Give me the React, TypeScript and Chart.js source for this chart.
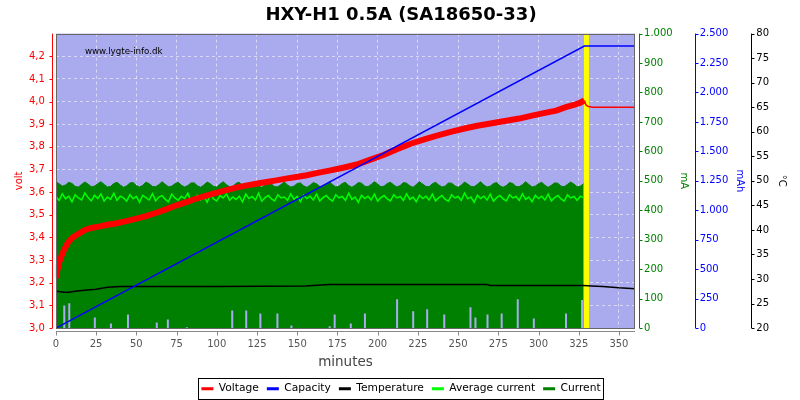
import React, { useEffect, useRef } from 'react';
import { Chart, registerables } from 'chart.js';

Chart.register(...registerables);

const TITLE = 'HXY-H1 0.5A (SA18650-33)';
const WATERMARK = 'www.lygte-info.dk';
const FONT = 'DejaVu Sans';
const SAMPLE_MINUTES = 2;

// Voltage (V) vs minutes
const voltTimes = [0, 1, 2, 3.5, 5, 7.5, 10, 12, 15, 18, 22, 26.5, 32, 37, 43, 49.5, 56, 62, 68, 74.5, 81, 87, 93, 99.5, 106, 112, 118, 124.5, 131, 137, 143, 149.5, 156, 162, 170, 178.5, 187, 196, 204, 212, 221, 230, 238, 246, 254, 262, 271, 280, 288, 296, 304, 311, 317, 322, 326, 328.5, 329.5, 331, 334, 360];
const voltValues = [3.222, 3.26, 3.29, 3.319, 3.345, 3.378, 3.398, 3.408, 3.42, 3.433, 3.442, 3.448, 3.456, 3.462, 3.471, 3.482, 3.494, 3.508, 3.523, 3.541, 3.556, 3.571, 3.584, 3.597, 3.609, 3.62, 3.629, 3.637, 3.645, 3.652, 3.66, 3.667, 3.675, 3.684, 3.695, 3.708, 3.722, 3.745, 3.765, 3.79, 3.815, 3.835, 3.852, 3.867, 3.881, 3.893, 3.904, 3.915, 3.925, 3.938, 3.95, 3.96, 3.975, 3.985, 3.995, 4.005, 3.985, 3.978, 3.975, 3.975];

// Capacity (mAh)
const capTimes = [0, 328.5, 360];
const capValues = [0, 2395, 2395];

// Temperature (°C)
const tempTimes = [0, 3, 5, 8, 12, 18, 25, 32, 40, 100, 155, 160, 170, 268, 270, 328, 333, 340, 350, 360];
const tempValues = [27.5, 27.4, 27.3, 27.3, 27.5, 27.7, 27.9, 28.3, 28.5, 28.5, 28.6, 28.7, 28.9, 28.9, 28.7, 28.7, 28.6, 28.5, 28.2, 28.0];

// Average current (mA), one value every SAMPLE_MINUTES
const avgCurrent = [
  447, 434, 456, 439, 448, 429, 453, 442, 435, 459, 443, 432, 451, 440, 455,
  431, 445, 437, 458, 434, 448, 442, 431, 453, 439, 447, 427, 451, 443, 435,
  456, 432, 445, 450, 437, 429, 455, 442, 434, 448, 440, 458, 431, 443, 451,
  435, 447, 427, 453, 439, 432, 450, 442, 456, 434, 445, 437, 448, 429, 455,
  440, 447, 435, 458, 431, 443, 450, 439, 432, 453, 442, 445, 434, 456, 437,
  447, 429, 451, 440, 448, 435, 455, 432, 443, 450, 439, 431, 453, 442, 447,
  434, 458, 437, 445, 427, 451, 440, 448, 435, 455, 431, 443, 450, 439, 432,
  453, 442, 447, 434, 456, 437, 445, 429, 451, 440, 448, 435, 455, 432, 443,
  450, 437, 431, 453, 442, 447, 434, 458, 439, 445, 427, 451, 440, 448, 435,
  455, 431, 443, 450, 439, 432, 453, 442, 447, 434, 456, 437, 445, 429, 451,
  440, 448, 435, 455, 432, 443, 450, 439, 431, 453, 442, 447, 434, 448, 443,
];

// Current (mA), one value every SAMPLE_MINUTES
const current = [
  497, 490, 482, 486, 495, 491, 481, 479, 488, 496, 489, 480, 482, 490, 497,
  488, 479, 481, 491, 495, 486, 478, 483, 493, 494, 484, 479, 485, 496, 490,
  481, 480, 487, 497, 488, 480, 482, 490, 495, 485, 479, 484, 493, 493, 483,
  478, 486, 496, 490, 481, 479, 489, 497, 487, 480, 481, 492, 495, 484, 479,
  483, 494, 492, 482, 478, 485, 497, 489, 480, 480, 488, 496, 486, 479, 482,
  491, 493, 483, 478, 485, 494, 490, 481, 480, 488, 497, 487, 479, 482, 491,
  495, 484, 478, 485, 494, 492, 482, 480, 488, 497, 489, 480, 482, 491, 495,
  486, 479, 484, 494, 492, 483, 478, 487, 497, 489, 481, 480, 490, 495, 486,
  479, 482, 493, 492, 483, 478, 485, 496, 489, 481, 480, 488, 497, 486, 479,
  482, 491, 494, 483, 478, 484, 494, 491, 481, 480, 487, 497, 488, 479, 482,
  490, 495, 485, 478, 485, 493, 492, 482, 480, 488, 496, 489, 480, 482, 490,
];

// Short current drop-outs (minute, mA reached)
const dipTimes = [5.2, 8.3, 24.2, 34.2, 44.8, 62.7, 69.6, 81.4, 109.6, 118.3, 127.1, 137.7, 146.4, 170.2, 173.3, 183.3, 192.1, 212.1, 222.1, 230.8, 241.4, 257.7, 260.8, 268.3, 277.1, 287.1, 297.1, 317.1, 327.1];
const dipHeights = [77, 84, 36, 16, 46, 19, 29, 3, 60, 60, 50, 50, 9, 6, 46, 16, 50, 98, 57, 64, 46, 71, 36, 46, 50, 98, 33, 50, 95];

const chargeEnd = 329.8;

const C = {
  bg: '#AAAAEE',
  grid: 'rgba(255,255,255,0.55)',
  volt: '#FF0000',
  cap: '#0000FF',
  temp: '#000000',
  avg: '#00FF00',
  cur: '#008000',
  mark: '#FFFF00',
};

const fmtVolt = (v: number) => Number(v).toFixed(1).replace('.', ',');
const fmtThousands = (v: number) => Math.round(v).toString().replace(/\B(?=(\d{3})+(?!\d))/g, '.');

const GAP = 4; // axis line offset from plot
const TICK = 3; // tick mark length

const plotBg = {
  id: 'plotBg',
  beforeDraw(chart: any) {
    const { ctx, chartArea: a } = chart;
    ctx.save();
    ctx.fillStyle = C.bg;
    ctx.fillRect(a.left, a.top, a.right - a.left, a.bottom - a.top);
    ctx.restore();
  },
  afterDatasetsDraw(chart: any) {
    const { ctx, chartArea: a } = chart;
    ctx.save();
    ctx.strokeStyle = '#666666';
    ctx.lineWidth = 1;
    ctx.strokeRect(Math.round(a.left) + 0.5, Math.round(a.top) + 0.5, Math.round(a.right - a.left) - 1, Math.round(a.bottom - a.top) - 1);
    ctx.fillStyle = '#000000';
    ctx.font = `8.7px "${FONT}"`;
    ctx.textAlign = 'left';
    ctx.textBaseline = 'middle';
    ctx.fillText(WATERMARK, a.left + 29, a.top + 18);
    ctx.restore();
  },
};

const axisDecor = {
  id: 'axisDecor',
  afterDraw(chart: any) {
    const { ctx, chartArea: a, scales } = chart;
    ctx.save();
    ctx.lineWidth = 1;
    const yAxes: [string, string][] = [['y', C.volt], ['y1', C.cur], ['y2', C.cap], ['y3', C.temp]];
    for (const [id, color] of yAxes) {
      const s = scales[id];
      const left = s.position === 'left';
      const x = Math.round(left ? a.left - GAP : s.left + GAP) + 0.5;
      ctx.strokeStyle = color;
      ctx.beginPath();
      ctx.moveTo(x, a.top);
      ctx.lineTo(x, a.bottom);
      for (const t of s.ticks) {
        const y = Math.round(s.getPixelForValue(t.value)) + 0.5;
        ctx.moveTo(x, y);
        ctx.lineTo(left ? x - TICK : x + TICK, y);
      }
      ctx.stroke();
    }
    const sx = scales.x;
    const y0 = Math.round(a.bottom + GAP - 1) + 0.5;
    ctx.strokeStyle = '#888888';
    ctx.beginPath();
    ctx.moveTo(a.left, y0);
    ctx.lineTo(a.right, y0);
    for (const t of sx.ticks) {
      const x = Math.round(sx.getPixelForValue(t.value)) + 0.5;
      ctx.moveTo(x, y0);
      ctx.lineTo(x, y0 + TICK + 1);
    }
    ctx.stroke();

    // legend frame
    const hb = chart.legend?.legendHitBoxes;
    if (hb && hb.length) {
      const l = Math.min(...hb.map((h: any) => h.left)) - 3;
      const r = Math.max(...hb.map((h: any) => h.left + h.width)) + 3;
      const t = Math.min(...hb.map((h: any) => h.top)) - 5;
      const b = Math.max(...hb.map((h: any) => h.top + h.height)) + 5;
      ctx.strokeStyle = '#000000';
      ctx.strokeRect(Math.round(l) + 0.5, Math.round(t) + 0.5, Math.round(r - l), Math.round(b - t));
    }
    ctx.restore();
  },
};

const pts = (xs: number[], ys: number[]) => xs.map((x, i) => ({ x, y: ys[i] }));
const sampled = (ys: number[]) => ys.map((y, i) => ({ x: i * SAMPLE_MINUTES, y }));

export default function App() {
  const ref = useRef<HTMLCanvasElement | null>(null);

  useEffect(() => {
    if (!ref.current) return;
    Chart.defaults.font.family = FONT;

    const dipData: any[] = [];
    dipTimes.forEach((t, i) => {
      dipData.push({ x: t, y: 0 }, { x: t, y: dipHeights[i] }, { x: t, y: null });
    });

    const yTickCommon = (color: string) => ({
      color,
      font: { size: 10, family: FONT },
      padding: 2,
    });
    const gridOff = { drawOnChartArea: false, tickColor: 'transparent', tickLength: 7 };
    const titleFont = { size: 10, family: FONT };

    const chart = new Chart(ref.current, {
      type: 'line',
      data: {
        datasets: [
          {
            label: 'Voltage',
            data: pts(voltTimes, voltValues),
            yAxisID: 'y',
            borderColor: C.volt,
            backgroundColor: C.volt,
            borderWidth: 6,
            pointRadius: 0,
            tension: 0,
            order: 2,
            segment: {
              borderWidth: (ctx: any) => (ctx.p0.parsed.x >= 328.5 ? 1.5 : 6),
            },
          },
          {
            label: 'Capacity',
            data: pts(capTimes, capValues),
            yAxisID: 'y2',
            borderColor: C.cap,
            backgroundColor: C.cap,
            borderWidth: 1.5,
            pointRadius: 0,
            tension: 0,
            order: 1,
          },
          {
            label: 'Temperature',
            data: pts(tempTimes, tempValues),
            yAxisID: 'y3',
            borderColor: C.temp,
            backgroundColor: C.temp,
            borderWidth: 1.5,
            pointRadius: 0,
            tension: 0,
            order: 3,
          },
          {
            label: 'Average current',
            data: sampled(avgCurrent),
            yAxisID: 'y1',
            borderColor: C.avg,
            backgroundColor: C.avg,
            borderWidth: 1.5,
            pointRadius: 0,
            tension: 0,
            order: 4,
          },
          {
            label: 'Current',
            data: sampled(current),
            yAxisID: 'y1',
            borderColor: C.cur,
            backgroundColor: C.cur,
            borderWidth: 1,
            pointRadius: 0,
            tension: 0,
            fill: 'origin',
            order: 7,
          },
          {
            label: 'dips',
            data: dipData,
            yAxisID: 'y1',
            borderColor: C.bg,
            borderWidth: 2,
            pointRadius: 0,
            spanGaps: false,
            order: 6,
          },
          {
            label: 'end',
            data: [{ x: chargeEnd, y: 0 }, { x: chargeEnd, y: 1000 }],
            yAxisID: 'y1',
            borderColor: C.mark,
            borderWidth: 5,
            pointRadius: 0,
            order: 5,
          },
        ],
      },
      options: {
        animation: false,
        responsive: true,
        maintainAspectRatio: false,
        layout: { padding: { left: 10, right: 8, top: 0, bottom: -4 } },
        plugins: {
          tooltip: { enabled: false },
          title: {
            display: true,
            text: TITLE,
            color: '#000000',
            font: { size: 18, weight: 'bold', family: FONT },
            padding: { top: 5, bottom: 7 },
          },
          legend: {
            display: true,
            position: 'bottom',
            labels: {
              color: '#000000',
              font: { size: 10.7, family: FONT },
              usePointStyle: true,
              pointStyle: 'line',
              pointStyleWidth: 12,
              boxHeight: 11,
              padding: 8,
              filter: (item: any) => item.datasetIndex < 5,
              sort: (a: any, b: any) => a.datasetIndex - b.datasetIndex,
              generateLabels: (chart: any) =>
                (Chart.defaults.plugins.legend.labels as any).generateLabels(chart).map((l: any) => ({
                  ...l,
                  lineWidth: 3,
                  pointStyle: 'line',
                  strokeStyle: chart.data.datasets[l.datasetIndex].borderColor,
                })),
            },
          },
        },
        scales: {
          x: {
            type: 'linear',
            min: 0,
            max: 360,
            ticks: {
              stepSize: 25,
              includeBounds: false,
              autoSkip: false,
              maxRotation: 0,
              color: '#555555',
              font: { size: 10, family: FONT },
              padding: 3,
            },
            grid: { color: C.grid, tickColor: 'transparent', tickLength: 7 },
            border: { display: false, dash: [3, 3] },
            title: {
              display: true,
              text: 'minutes',
              color: '#444444',
              font: { size: 13.5, family: FONT },
              padding: { top: 1, bottom: 5 },
            },
          },
          y: {
            position: 'left',
            min: 3.0,
            max: 4.3,
            afterBuildTicks: (s: any) => {
              s.ticks = s.ticks.filter((t: any) => t.value < 4.25);
            },
            ticks: { ...yTickCommon(C.volt), stepSize: 0.1, padding: 4, callback: (v: any) => fmtVolt(v) },
            grid: { color: C.grid, tickColor: 'transparent', tickLength: 7 },
            border: { display: false, dash: [3, 3] },
            title: { display: true, text: 'volt', color: C.volt, font: titleFont, padding: { top: 3, bottom: 0 } },
          },
          y1: {
            position: 'right',
            min: 0,
            max: 1000,
            ticks: { ...yTickCommon(C.cur), stepSize: 100, callback: (v: any) => fmtThousands(v) },
            grid: gridOff,
            border: { display: false },
            title: { display: true, text: 'mA', color: C.cur, font: titleFont, padding: { top: 1, bottom: 3 } },
          },
          y2: {
            position: 'right',
            min: 0,
            max: 2500,
            ticks: { ...yTickCommon(C.cap), stepSize: 250, callback: (v: any) => fmtThousands(v) },
            grid: gridOff,
            border: { display: false },
            title: { display: true, text: 'mAh', color: C.cap, font: titleFont, padding: { top: 2, bottom: 3 } },
          },
          y3: {
            position: 'right',
            min: 20,
            max: 80,
            ticks: { ...yTickCommon(C.temp), stepSize: 5 },
            grid: gridOff,
            border: { display: false },
            title: { display: true, text: '°C', color: C.temp, font: titleFont, padding: { top: 4, bottom: 5 } },
          },
        },
      } as any,
      plugins: [plotBg, axisDecor],
    });

    return () => chart.destroy();
  }, []);

  return (
    <div style={{ position: 'fixed', left: 0, top: 0, width: 800, height: 400, background: '#ffffff' }}>
      <canvas ref={ref} />
    </div>
  );
}
